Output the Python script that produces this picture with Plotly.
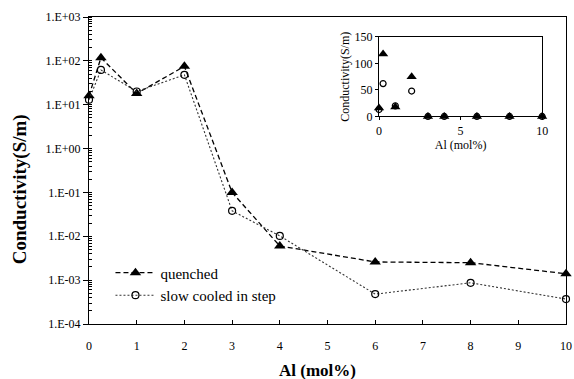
import plotly.graph_objects as go

al = [0, 0.25, 1, 2, 3, 4, 6, 8, 10]
quenched = [16, 118, 18, 75, 0.1, 0.006, 0.0026, 0.0025, 0.0014]
slow_cooled = [13, 62, 20, 48, 0.038, 0.0102, 0.00048, 0.00087, 0.00037]

y_tickvals = [1e-4, 1e-3, 1e-2, 1e-1, 1e0, 1e1, 1e2, 1e3]
y_ticktext = ["1.E-04", "1.E-03", "1.E-02", "1.E-01", "1.E+00", "1.E+01", "1.E+02", "1.E+03"]
x_ticks = list(range(0, 11))
inset_yticks = [0, 50, 100, 150]
inset_xticks = [0, 5, 10]

SERIF = "Liberation Serif"
TF = dict(family=SERIF, size=12, color="black")

fig = go.Figure()
fig.add_trace(go.Scatter(
    x=al, y=quenched, name="quenched", mode="lines+markers",
    line=dict(color="black", dash="5px,3px", width=1.3),
    marker=dict(symbol="triangle-up", size=10, color="black"),
    cliponaxis=False))
fig.add_trace(go.Scatter(
    x=al, y=slow_cooled, name="slow cooled in step", mode="lines+markers",
    line=dict(color="#333", dash="2px,2px", width=1.1),
    marker=dict(symbol="circle-open", size=7, color="black", line=dict(width=1.2)),
    cliponaxis=False))
# inset
fig.add_trace(go.Scatter(
    x=al, y=quenched, mode="markers", showlegend=False, xaxis="x2", yaxis="y2",
    marker=dict(symbol="triangle-up", size=9, color="black"), cliponaxis=False))
fig.add_trace(go.Scatter(
    x=al, y=slow_cooled, mode="markers", showlegend=False, xaxis="x2", yaxis="y2",
    marker=dict(symbol="circle-open", size=6, color="black", line=dict(width=1.2)), cliponaxis=False))

fig.update_layout(
    width=574, height=379,
    margin=dict(l=89, r=8, t=17, b=55, autoexpand=False),
    paper_bgcolor="white", plot_bgcolor="white",
    font=dict(family=SERIF, color="black", size=12),
    showlegend=True,
    legend=dict(x=0.045, y=0.22, xanchor="left", yanchor="top",
                font=dict(family=SERIF, size=15, color="black"), bgcolor="rgba(0,0,0,0)",
                tracegroupgap=0, itemwidth=40),
    xaxis=dict(range=[0, 10], tickvals=x_ticks, ticks="inside", ticklen=4, tickcolor="black",
               showline=True, linecolor="black", linewidth=1.2, mirror=True, automargin=False,
               showgrid=False, zeroline=False, ticklabelstandoff=10, tickfont=TF),
    yaxis=dict(type="log", range=[-4, 3], tickvals=y_tickvals, ticktext=y_ticktext,
               ticks="outside", ticklen=5, tickcolor="black", showline=True, linecolor="black",
               linewidth=1.2, mirror=True, showgrid=False, zeroline=False, tickfont=TF,
               automargin=False,
               minor=dict(ticks="inside", ticklen=3, dtick="D1", showgrid=False, tickcolor="black")),
    xaxis2=dict(domain=[0.608, 0.950], anchor="y2", range=[0, 10], tickvals=inset_xticks,
                ticks="outside", ticklen=3, tickcolor="black", showline=True, linecolor="black",
                linewidth=1, mirror=True, showgrid=False, zeroline=False, tickfont=TF,
                automargin=False,
                title=dict(text="Al (mol%)", font=dict(family=SERIF, size=12, color="black"), standoff=2)),
    yaxis2=dict(domain=[0.676, 0.935], anchor="x2", range=[0, 150], tickvals=inset_yticks,
                ticks="outside", ticklen=3, tickcolor="black", showline=True, linecolor="black",
                linewidth=1, mirror=True, showgrid=False, zeroline=False, tickfont=TF,
                automargin=False,
                title=dict(text="Conductivity(S/m)", font=dict(family=SERIF, size=12, color="black"), standoff=2)),
    annotations=[
        dict(text="<b>Conductivity(S/m)</b>", xref="paper", yref="paper",
             x=-0.144, y=0.44, xanchor="center", yanchor="middle", textangle=-90,
             showarrow=False, font=dict(family=SERIF, size=19, color="black")),
        dict(text="<b>Al (mol%)</b>", xref="paper", yref="paper",
             x=0.48, y=-0.15, xanchor="center", yanchor="middle",
             showarrow=False, font=dict(family=SERIF, size=17, color="black")),
    ],
)

fig.write_html("out.html")
